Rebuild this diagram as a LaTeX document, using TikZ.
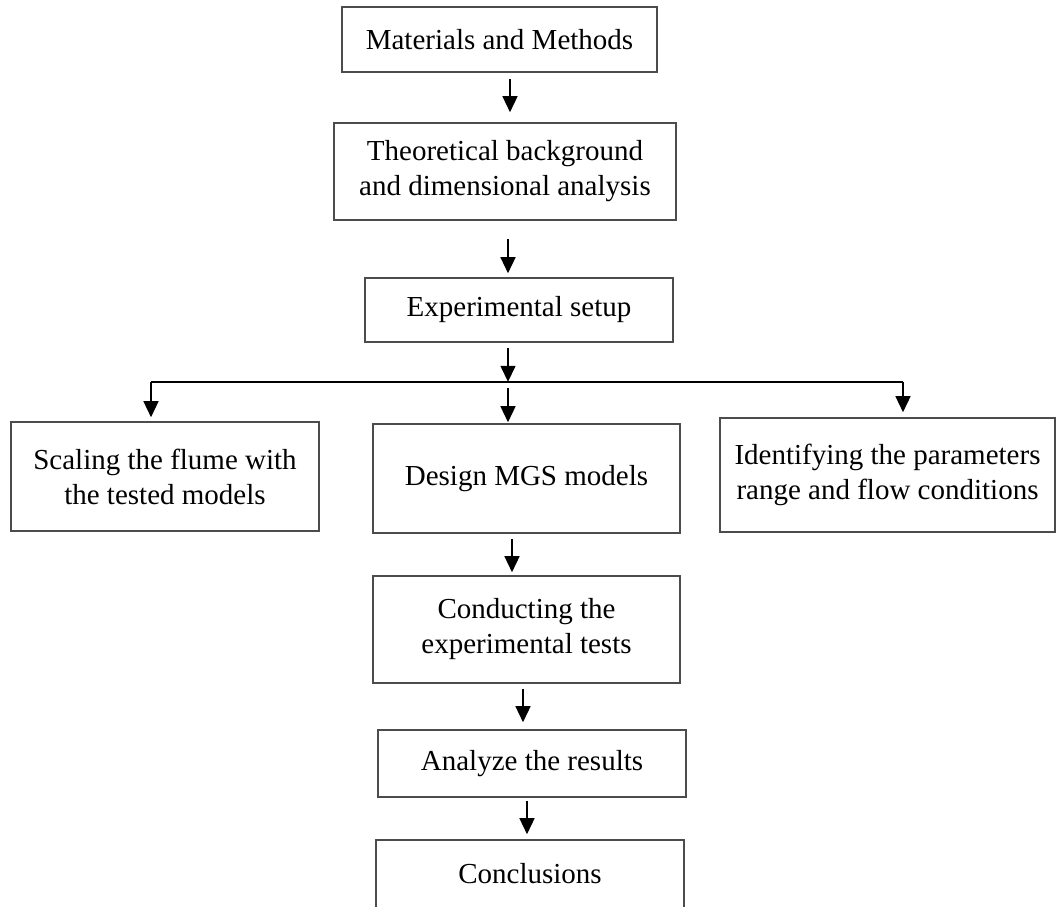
\documentclass[tikz,border=0pt]{standalone}
\usepackage{fontspec}
\setmainfont{Liberation Serif}
\usetikzlibrary{arrows.meta}
\begin{document}
\begin{tikzpicture}[x=1pt,y=1pt,
  box/.style={draw=black!70, line width=1.6pt, rectangle, inner sep=0pt,
    align=center, font=\fontsize{29}{35}\selectfont},
  arr/.style={-{Triangle[width=15pt,length=16pt]}, line width=1.4pt, black},
  conn/.style={line width=1.4pt, black}]
\useasboundingbox (0,0) rectangle (1056,-906);
\clip (0,0) rectangle (1056,-906);
\fill[white] (0,0) rectangle (1056,-906);

\node[box, minimum width=315pt, minimum height=65pt] (b1) at (499.5,-39.5) {Materials and Methods};
\node[box, minimum width=342pt, minimum height=97pt] (b2) at (505,-171.5) {Theoretical background\\and dimensional analysis};
\node[box, minimum width=308pt, minimum height=64pt] (b3) at (519,-310) {Experimental setup};
\node[box, minimum width=308pt, minimum height=109pt] (b4) at (165,-476.5) {Scaling the flume with\\the tested models};
\node[box, minimum width=307pt, minimum height=109pt] (b5) at (526.5,-478.5) {Design MGS models};
\node[box, minimum width=335pt, minimum height=114pt] (b6) at (887.5,-475) {Identifying the parameters\\range and flow conditions};
\node[box, minimum width=307pt, minimum height=107pt] (b7) at (526.5,-629.5) {Conducting the\\experimental tests};
\node[box, minimum width=308pt, minimum height=67pt] (b8) at (532,-763.5) {Analyze the results};
\node[box, minimum width=308pt, minimum height=68pt] (b9) at (530,-874) {Conclusions};

\draw[arr, shorten <=6pt, shorten >=10pt] ([xshift=10.5pt]b1.south) -- ([xshift=10.5pt]b1.south |- b2.north);
\draw[arr, shorten <=18pt, shorten >=4pt] ([xshift=3pt]b2.south) -- ([xshift=3pt]b2.south |- b3.north);

\coordinate (split) at ([xshift=-11pt,yshift=-39pt]b3.south);
\draw[arr, shorten <=5pt] ([xshift=-11pt]b3.south) -- (split);
\coordinate (lb) at ([xshift=-14pt]b4.north |- split);
\coordinate (rb) at ([xshift=15.5pt]b6.north |- split);
\draw[conn] (lb) -- (rb);
\draw[arr, shorten >=4pt] (lb) -- (lb |- b4.north);
\draw[arr, shorten >=5pt] (rb) -- (rb |- b6.north);
\draw[arr, shorten <=6pt, shorten >=1pt] (split) -- (split |- b5.north);

\draw[arr, shorten <=5pt, shorten >=3pt] ([xshift=-14.5pt]b5.south) -- ([xshift=-14.5pt]b5.south |- b7.north);
\draw[arr, shorten <=5pt, shorten >=7pt] ([xshift=-3.5pt]b7.south) -- ([xshift=-3.5pt]b7.south |- b8.north);
\draw[arr, shorten <=3pt, shorten >=5pt] ([xshift=-5pt]b8.south) -- ([xshift=-5pt]b8.south |- b9.north);
\end{tikzpicture}
\end{document}
